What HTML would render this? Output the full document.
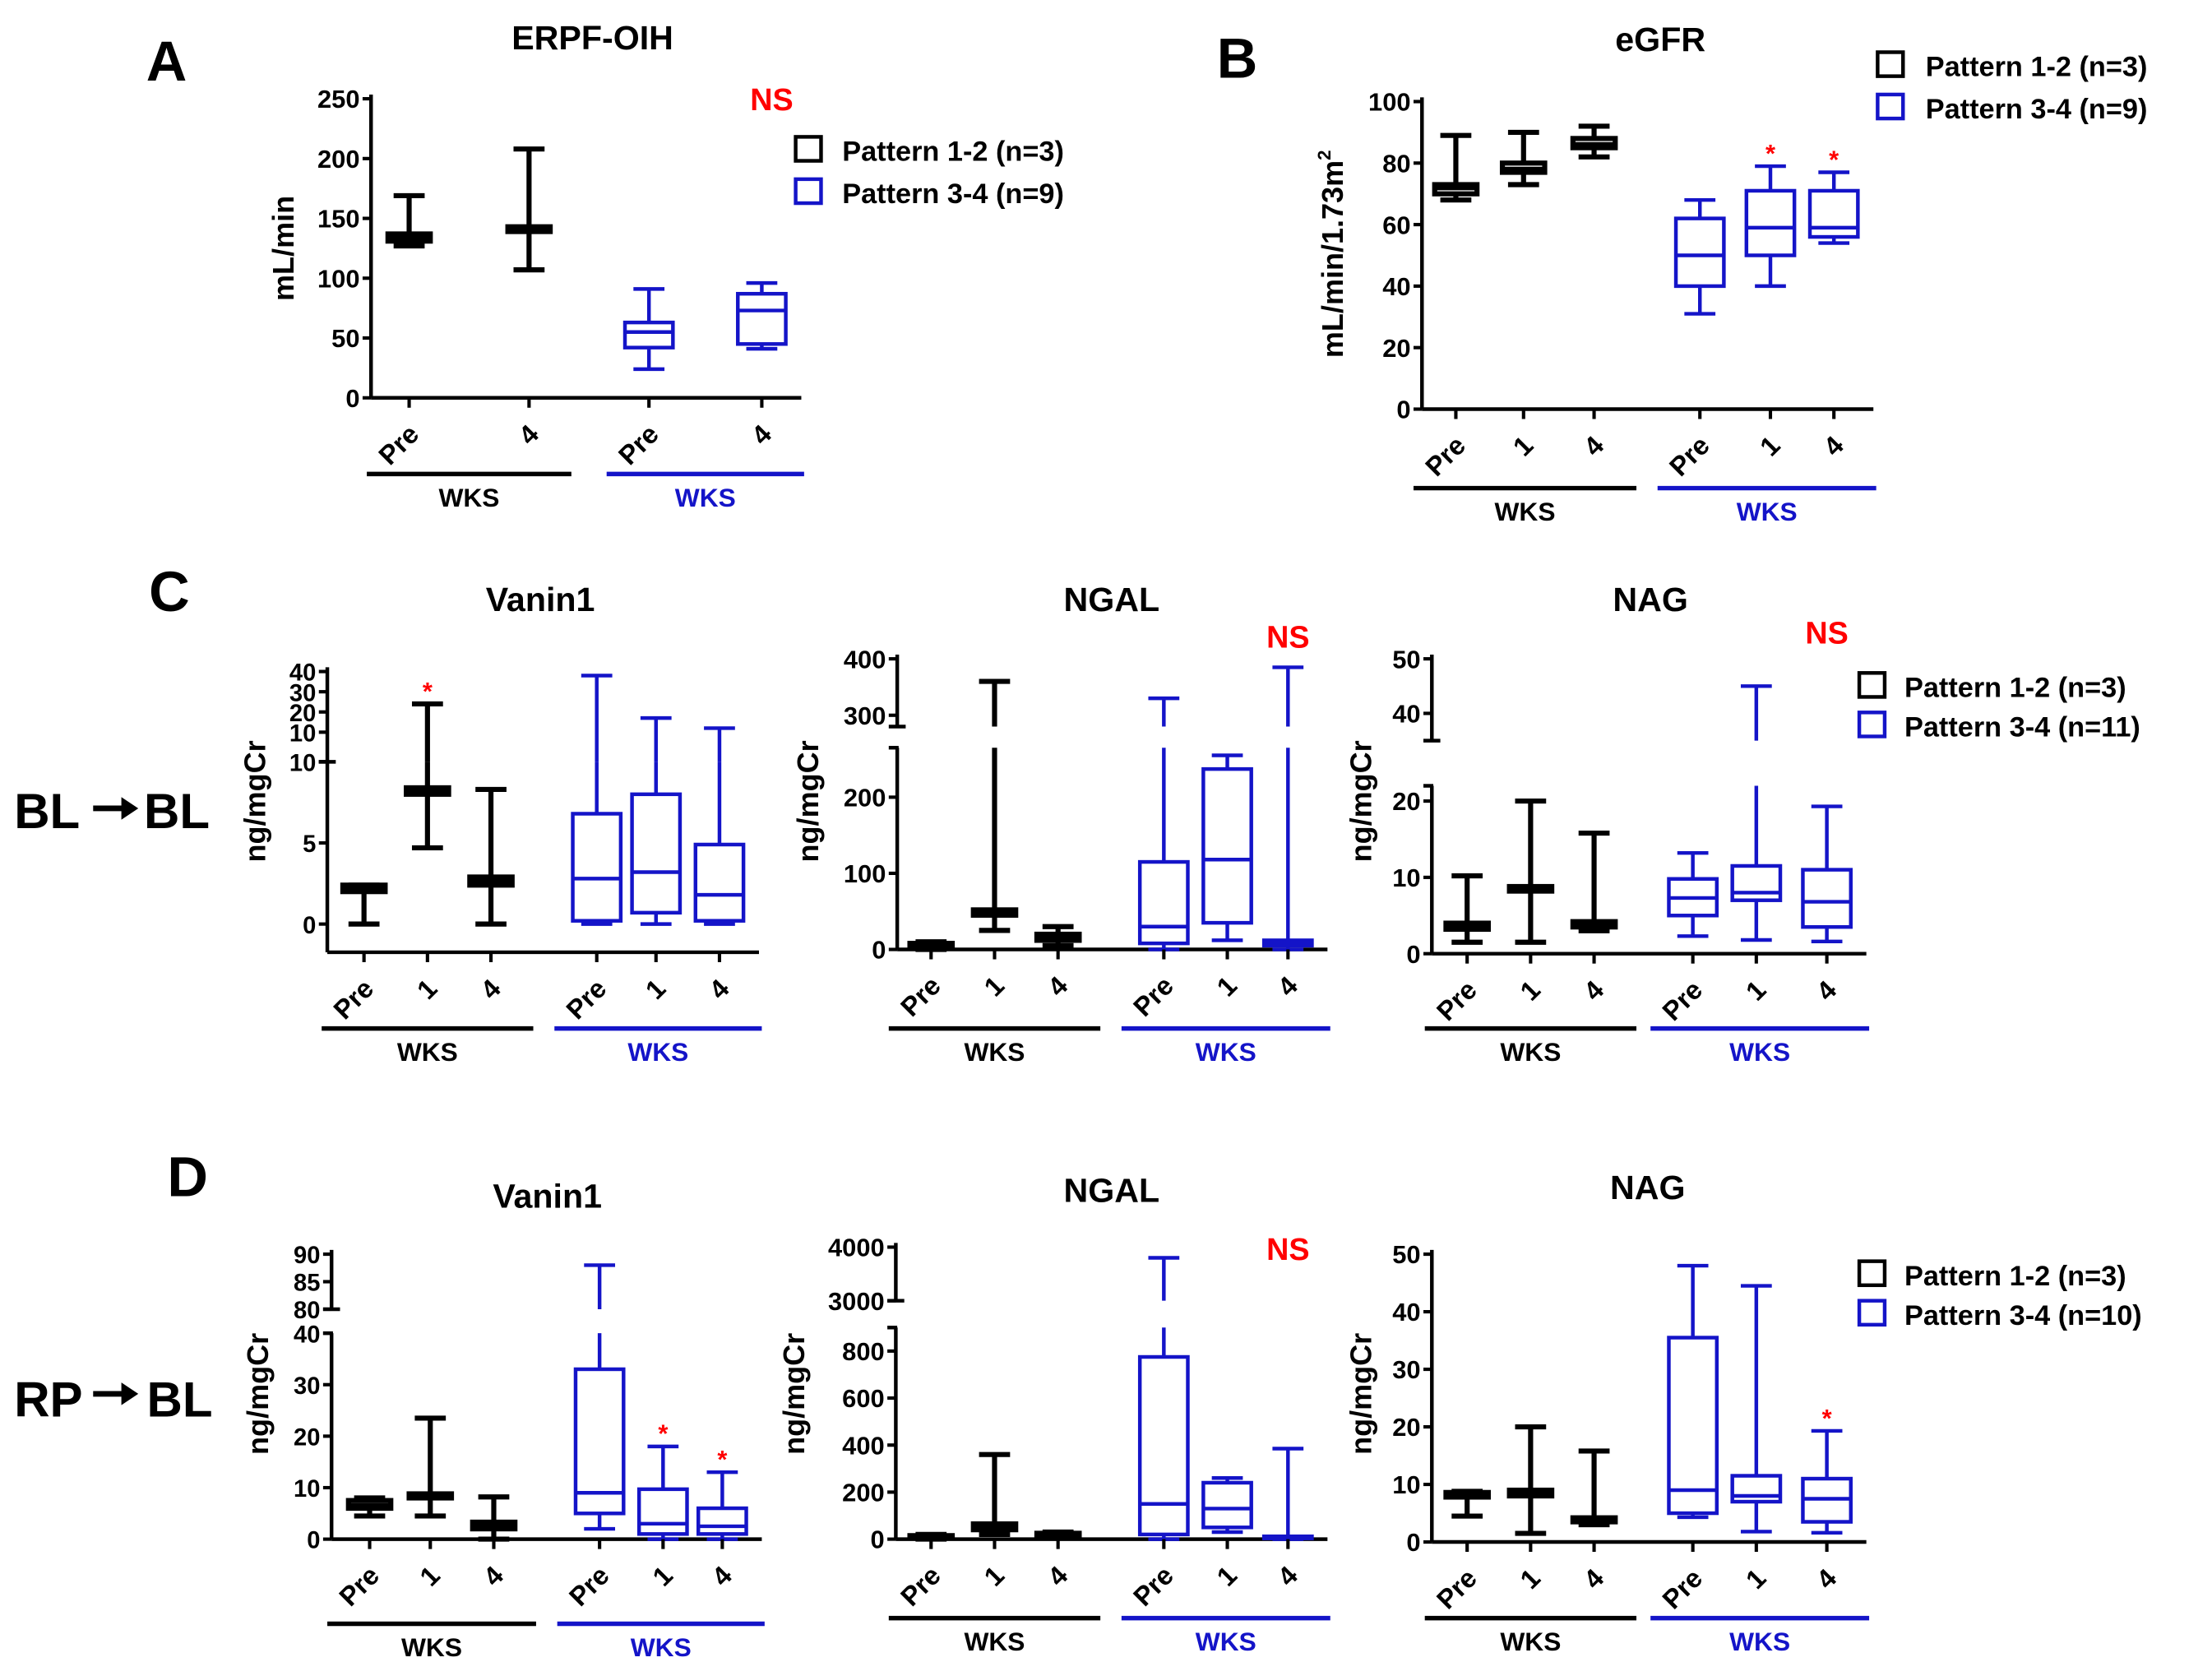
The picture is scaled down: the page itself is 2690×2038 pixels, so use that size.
<!DOCTYPE html>
<html><head><meta charset="utf-8"><style>
html,body{margin:0;padding:0;background:#fff;}
svg{display:block;font-family:"Liberation Sans",Arial,sans-serif;font-weight:bold;}
</style></head><body>
<svg id="fig" width="2690" height="2038" viewBox="0 0 1568 1188" xmlns="http://www.w3.org/2000/svg">
<rect width="1568" height="1188" fill="#fff"/>
<g id="static">
<text x="118" y="57" font-size="40" text-anchor="middle">A</text>
<text x="877" y="55" font-size="40" text-anchor="middle">B</text>
<text x="120" y="433" font-size="40" text-anchor="middle">C</text>
<text x="133" y="848" font-size="40" text-anchor="middle">D</text>
<g>
<text x="10" y="587" font-size="35">BL</text>
<path d="M66 573 L88 573" stroke="#000" stroke-width="4"/><path d="M86 565 L98 573 L86 581Z" fill="#000"/>
<text x="102" y="587" font-size="35">BL</text></g>
<g>
<text x="10" y="1004" font-size="35">RP</text>
<path d="M66 988 L88 988" stroke="#000" stroke-width="4"/><path d="M86 980 L98 988 L86 996Z" fill="#000"/>
<text x="104" y="1004" font-size="35">BL</text></g>
<g>
<rect x="564" y="97" width="18" height="17" fill="none" stroke="#000" stroke-width="2.6"/><text x="597" y="114" font-size="20">Pattern 1-2 (n=3)</text>
<rect x="564" y="127" width="18" height="17" fill="none" stroke="#1414c8" stroke-width="2.6"/><text x="597" y="144" font-size="20">Pattern 3-4 (n=9)</text></g>
<g>
<rect x="1331" y="37" width="18" height="17" fill="none" stroke="#000" stroke-width="2.6"/><text x="1365" y="54" font-size="20">Pattern 1-2 (n=3)</text>
<rect x="1331" y="67" width="18" height="17" fill="none" stroke="#1414c8" stroke-width="2.6"/><text x="1365" y="84" font-size="20">Pattern 3-4 (n=9)</text></g>
<g>
<rect x="1318" y="477" width="18" height="17" fill="none" stroke="#000" stroke-width="2.6"/><text x="1350" y="494" font-size="20">Pattern 1-2 (n=3)</text>
<rect x="1318" y="505" width="18" height="17" fill="none" stroke="#1414c8" stroke-width="2.6"/><text x="1350" y="522" font-size="20">Pattern 3-4 (n=11)</text></g>
<g>
<rect x="1318" y="894" width="18" height="17" fill="none" stroke="#000" stroke-width="2.6"/><text x="1350" y="911" font-size="20">Pattern 1-2 (n=3)</text>
<rect x="1318" y="922" width="18" height="17" fill="none" stroke="#1414c8" stroke-width="2.6"/><text x="1350" y="939" font-size="20">Pattern 3-4 (n=10)</text></g>
</g>
</svg>
<script>
const cats3=['Pre','1','4'];
const cats2=['Pre','4'];
// [min,q1,median,q3,max]
const aBlack=[[127,131,134,137,169],[107,139,141,143,208]];
const aBlue=[[24,42,55,63,91],[41,45,73,87,96]];
const bBlack=[[68,70,72,73,89],[73,77,78,80,90],[82,85,86,88,92]];
const bBlue=[[31,40,50,62,68],[40,50,59,71,79],[54,56,59,71,77]];
const cVanBlack=[[0,2.0,2.2,2.4,2.4],[4.7,8.0,8.2,8.4,24],[0,2.4,2.6,2.9,8.3]];
const cVanBlue=[[0,0.2,2.8,6.8,38],[0,0.7,3.2,8.0,17],[0,0.2,1.8,4.9,12]];
const cNgalBlack=[[0,3,5,8,10],[25,45,48,52,360],[5,12,16,20,30]];
const cNgalBlue=[[0,8,30,115,330],[12,35,118,237,255],[0,5,8,12,385]];
const cNagBlack=[[1.5,3.2,3.6,4.0,10.2],[1.5,8.2,8.5,8.8,20],[3,3.5,3.8,4.2,15.8]];
const cNagBlue=[[2.3,5,7.3,9.8,13.2],[1.8,7,8,11.5,45],[1.6,3.5,6.8,11,19.3]];
const dVanBlack=[[4.5,6,6.5,7.5,8],[4.5,8,8.3,8.8,23.5],[0,2,2.7,3.3,8.2]];
const dVanBlue=[[2,5,9,33,88],[0,1,3,9.7,18],[0,1,2.5,6,13]];
const dNgalBlack=[[0,5,10,15,20],[20,40,50,65,360],[5,12,18,25,30]];
const dNgalBlue=[[0,20,150,775,3800],[30,50,130,240,260],[0,3,8,12,385]];
const dNagBlack=[[4.5,7.8,8.2,8.6,8.8],[1.5,8,8.5,9,20],[3,3.5,3.8,4.2,15.8]];
const dNagBlue=[[4.3,5,9,35.5,48],[1.8,7,8,11.5,44.5],[1.6,3.5,7.5,11,19.3]];
const aTicks=[0,50,100,150,200,250];
const bTicks=[0,20,40,60,80,100];
const cVanTicks=[0,5,10,10,20,30,40];
const cNgalTicks=[0,100,200,300,400];
const cNagTicks=[0,10,20,40,50];
const dVanTicks=[0,10,20,30,40,80,85,90];
const dNgalTicks=[0,200,400,600,800,3000,4000];
const dNagTicks=[0,10,20,30,40,50];
// significance markers: [group(0 black/1 blue), index]
const bStars=[[1,1],[1,2]];
const cVanStars=[[0,1]];
const dVanStars=[[1,1],[1,2]];
const dNagStars=[[1,2]];

const NS='http://www.w3.org/2000/svg';
const svg=document.getElementById('fig');
const BLUE='#1414c8';
function el(tag,attrs,parent){const e=document.createElementNS(NS,tag);for(const k in attrs)e.setAttribute(k,attrs[k]);(parent||svg).appendChild(e);return e;}

function makeScale(segs){
  return function(v){
    for(const s of segs){ if(v<=s.v1) { const vv=Math.max(v,s.v0); return s.y0+(vv-s.v0)*(s.y1-s.y0)/(s.v1-s.v0);} }
    const s=segs[segs.length-1]; return s.y0+(v-s.v0)*(s.y1-s.y0)/(s.v1-s.v0);
  };
}
function vSeg(g,x,a,b,segs,sc,color,w){
  for(const s of segs){
    const lo=Math.max(a,s.v0), hi=Math.min(b,s.v1);
    if(hi>lo) el('line',{x1:x,x2:x,y1:sc(lo),y2:sc(hi),stroke:color,'stroke-width':w},g);
  }
}
function drawPanel(p){
  const g=el('g',{});
  
  
  const sc=makeScale(p.segs);
  const t=el('text',{x:p.titleX,y:p.titleY,'font-size':24,'text-anchor':'middle'},g);t.textContent=p.title;
  
  
  if(p.ns){const n=el('text',{x:p.ns[0],y:p.ns[1],'font-size':22,'text-anchor':'middle',fill:'#f00'},g);n.textContent='NS';
    
    }
  const ax=el('g',{},g);
  
  
  p.segs.forEach((s,i)=>{
    const yb=(i===0)?p.xAxisY:sc(s.v0);
    const yt=sc(s.v1)-(i===p.segs.length-1?3:0);
    el('line',{x1:p.axisX,x2:p.axisX,y1:yb,y2:yt,stroke:'#000','stroke-width':2.6},ax);
    if(p.segs.length>1){
      if(i<p.segs.length-1) el('line',{x1:p.axisX-6,x2:p.axisX+1,y1:sc(s.v1),y2:sc(s.v1),stroke:'#000','stroke-width':2.6},ax);
      if(i>0) el('line',{x1:p.axisX-6,x2:p.axisX+6,y1:sc(s.v0),y2:sc(s.v0),stroke:'#000','stroke-width':2.6},ax);
    }
  });
  p.ticks.forEach((v,i)=>{
    const segIdx=p.tickSeg?p.tickSeg[i]:0;
    const s=p.segs[segIdx];
    const y=s.y0+(v-s.v0)*(s.y1-s.y0)/(s.v1-s.v0);
    el('line',{x1:p.axisX-6,x2:p.axisX,y1:y,y2:y,stroke:'#000','stroke-width':2.4},ax);
    const tl=el('text',{x:p.axisX-8,y:y+6.5,'font-size':p.tickFs||18,'text-anchor':'end'},ax);tl.textContent=String(v);
    
    
  });
  const yl=el('text',{x:p.ylabX,y:p.ylabY,'font-size':21,'text-anchor':'middle',transform:`rotate(-90 ${p.ylabX} ${p.ylabY})`},g);
  
  
  if(p.ylabSup){yl.textContent=p.ylab;const ts=el('tspan',{dy:-9,'font-size':13},yl);ts.textContent=p.ylabSup;}
  else yl.textContent=p.ylab;
  const allX=p.bx.concat(p.ux);
  el('line',{x1:p.axisX,x2:allX[allX.length-1]+28,y1:p.xAxisY,y2:p.xAxisY,stroke:'#000','stroke-width':2.6},g);
  const groups=[[p.black,p.bx,'#000',3.6,'pattern-1-2'],[p.blue,p.ux,BLUE,2.6,'pattern-3-4']];
  groups.forEach(([data,xs,col,w,nm],gi)=>{
    data.forEach((d,i)=>{
      const x=xs[i];
      const bg=el('g',{},g);
      
      
      const bw=gi===0?15:17, cw=11;
      vSeg(bg,x,d[0],d[1],p.segs,sc,col,w);
      vSeg(bg,x,d[3],d[4],p.segs,sc,col,w);
      el('line',{x1:x-cw,x2:x+cw,y1:sc(d[0]),y2:sc(d[0]),stroke:col,'stroke-width':w},bg);
      el('line',{x1:x-cw,x2:x+cw,y1:sc(d[4]),y2:sc(d[4]),stroke:col,'stroke-width':w},bg);
      el('rect',{x:x-bw,y:sc(d[3]),width:2*bw,height:Math.max(sc(d[1])-sc(d[3]),0.1),fill:'none',stroke:col,'stroke-width':w},bg);
      el('line',{x1:x-bw,x2:x+bw,y1:sc(d[2]),y2:sc(d[2]),stroke:col,'stroke-width':w},bg);
      el('line',{x1:x,x2:x,y1:p.xAxisY,y2:p.xAxisY+7,stroke:'#000','stroke-width':2.4},g);
      const lx=x+8, ly=p.xAxisY+27;
      const tl=el('text',{x:lx,y:ly,'font-size':19,'text-anchor':'end',transform:`rotate(-45 ${lx} ${ly})`},g);
      tl.textContent=p.cats[i];
      
      
    });
    const x0=xs[0]-30, x1=xs[xs.length-1]+30;
    el('line',{x1:x0,x2:x1,y1:p.ulY,y2:p.ulY,stroke:col,'stroke-width':3.2},g);
    const wt=el('text',{x:(x0+x1)/2,y:p.ulY+23,'font-size':18.5,'text-anchor':'middle',fill:col},g);
    wt.textContent='WKS';
    
    
  });
  (p.stars||[]).forEach(([gi,i])=>{
    const d=gi?p.blue[i]:p.black[i]; const x=(gi?p.ux:p.bx)[i];
    const st=el('text',{x:x,y:sc(d[4])-3,'font-size':18,'text-anchor':'middle',fill:'#f00'},g);
    st.textContent='*';
    
    
  });
}

drawPanel({name:'panel-a-erpf-oih',title:'ERPF-OIH',titleX:420,titleY:35,ns:[547,78],cats:cats2,
  segs:[{v0:0,v1:250,y0:282,y1:70}],ticks:aTicks,axisX:263,xAxisY:282,
  ylab:'mL/min',ylabX:208,ylabY:176,black:aBlack,blue:aBlue,bx:[290,375],ux:[460,540],ulY:336});
drawPanel({name:'panel-b-egfr',title:'eGFR',titleX:1177,titleY:36,cats:cats3,
  segs:[{v0:0,v1:100,y0:290,y1:72}],ticks:bTicks,axisX:1008,xAxisY:290,
  ylab:'mL/min/1.73m',ylabSup:'2',ylabX:952,ylabY:180,black:bBlack,blue:bBlue,bx:[1032,1080,1130],ux:[1205,1255,1300],ulY:346,stars:bStars});
drawPanel({name:'panel-c-vanin1',title:'Vanin1',titleX:383,titleY:433,cats:cats3,tickFs:17,
  segs:[{v0:0,v1:10,y0:655,y1:540},{v0:10,v1:40,y0:519,y1:476}],ticks:cVanTicks,tickSeg:[0,0,0,1,1,1,1],axisX:232,xAxisY:675,
  ylab:'ng/mgCr',ylabX:188,ylabY:568,black:cVanBlack,blue:cVanBlue,bx:[258,303,348],ux:[423,465,510],ulY:729,stars:cVanStars});
drawPanel({name:'panel-c-ngal',title:'NGAL',titleX:788,titleY:433,ns:[913,459],cats:cats3,
  segs:[{v0:0,v1:265,y0:673,y1:530},{v0:280,v1:400,y0:515,y1:467}],ticks:cNgalTicks,tickSeg:[0,0,0,1,1],axisX:636,xAxisY:673,
  ylab:'ng/mgCr',ylabX:580,ylabY:568,black:cNgalBlack,blue:cNgalBlue,bx:[660,705,750],ux:[825,870,913],ulY:729});
drawPanel({name:'panel-c-nag',title:'NAG',titleX:1170,titleY:433,ns:[1295,456],cats:cats3,
  segs:[{v0:0,v1:22,y0:676,y1:557},{v0:35,v1:50,y0:525,y1:467}],ticks:cNagTicks,tickSeg:[0,0,0,1,1],axisX:1015,xAxisY:676,
  ylab:'ng/mgCr',ylabX:972,ylabY:568,black:cNagBlack,blue:cNagBlue,bx:[1040,1085,1130],ux:[1200,1245,1295],ulY:729});
drawPanel({name:'panel-d-vanin1',title:'Vanin1',titleX:388,titleY:856,cats:cats3,tickFs:17,
  segs:[{v0:0,v1:40,y0:1091,y1:945},{v0:80,v1:90,y0:928,y1:889}],ticks:dVanTicks,tickSeg:[0,0,0,0,0,1,1,1],axisX:235,xAxisY:1091,
  ylab:'ng/mgCr',ylabX:190,ylabY:988,black:dVanBlack,blue:dVanBlue,bx:[262,305,350],ux:[425,470,512],ulY:1151,stars:dVanStars});
drawPanel({name:'panel-d-ngal',title:'NGAL',titleX:788,titleY:852,ns:[913,893],cats:cats3,
  segs:[{v0:0,v1:900,y0:1091,y1:941},{v0:3000,v1:4000,y0:922,y1:884}],ticks:dNgalTicks,tickSeg:[0,0,0,0,0,1,1],axisX:635,xAxisY:1091,
  ylab:'ng/mgCr',ylabX:570,ylabY:988,black:dNgalBlack,blue:dNgalBlue,bx:[660,705,750],ux:[825,870,913],ulY:1147});
drawPanel({name:'panel-d-nag',title:'NAG',titleX:1168,titleY:850,cats:cats3,
  segs:[{v0:0,v1:50,y0:1093,y1:889}],ticks:dNagTicks,axisX:1015,xAxisY:1093,
  ylab:'ng/mgCr',ylabX:972,ylabY:988,black:dNagBlack,blue:dNagBlue,bx:[1040,1085,1130],ux:[1200,1245,1295],ulY:1147,stars:dNagStars});
</script>
</body></html>
